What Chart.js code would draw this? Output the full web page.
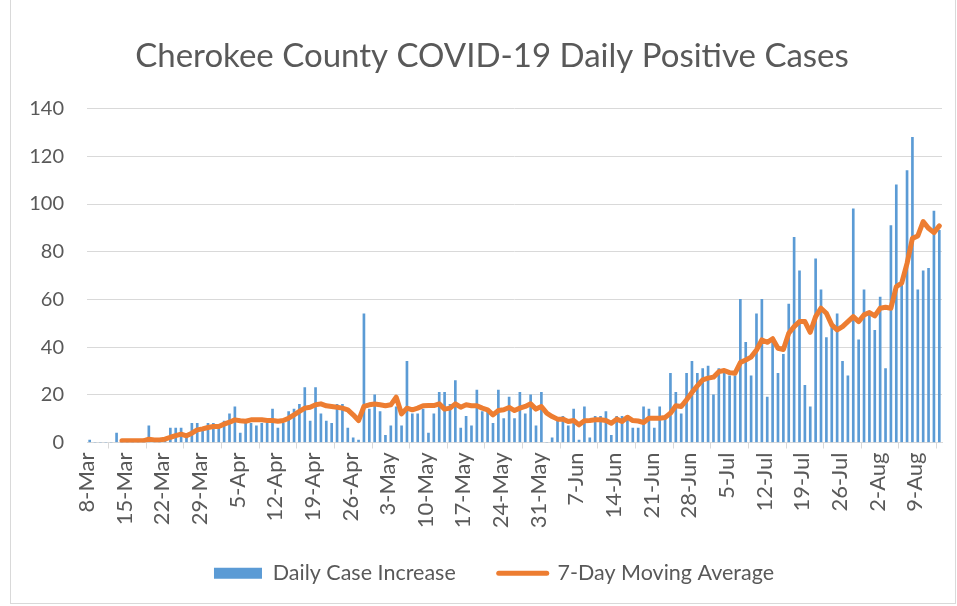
<!DOCTYPE html>
<html>
<head>
<meta charset="utf-8">
<script src="https://cdn.jsdelivr.net/npm/chart.js@4/dist/chart.umd.min.js"></script>
<style>
html, body { margin: 0; padding: 0; background: #ffffff; }
#wrap { position: relative; width: 957px; height: 606px; overflow: hidden; }
#c { position: absolute; left: 0; top: 0; }
#frame { position: absolute; left: 10px; top: -2px; width: 946px; height: 606px; border: 1px solid #d9d9d9; box-sizing: border-box; pointer-events: none; }
</style>
</head>
<body>
<div id="wrap">
  <canvas id="c" width="957" height="606"></canvas>
  <div id="frame"></div>
</div>
<script>
// ---- categories (one per day) ----
const dates = [
  "8-Mar","9-Mar","10-Mar","11-Mar","12-Mar","13-Mar","14-Mar","15-Mar","16-Mar","17-Mar","18-Mar","19-Mar","20-Mar","21-Mar","22-Mar","23-Mar","24-Mar","25-Mar","26-Mar","27-Mar","28-Mar","29-Mar","30-Mar","31-Mar",
  "1-Apr","2-Apr","3-Apr","4-Apr","5-Apr","6-Apr","7-Apr","8-Apr","9-Apr","10-Apr","11-Apr","12-Apr","13-Apr","14-Apr","15-Apr","16-Apr","17-Apr","18-Apr","19-Apr","20-Apr","21-Apr","22-Apr","23-Apr","24-Apr","25-Apr","26-Apr","27-Apr","28-Apr","29-Apr","30-Apr",
  "1-May","2-May","3-May","4-May","5-May","6-May","7-May","8-May","9-May","10-May","11-May","12-May","13-May","14-May","15-May","16-May","17-May","18-May","19-May","20-May","21-May","22-May","23-May","24-May","25-May","26-May","27-May","28-May","29-May","30-May","31-May",
  "1-Jun","2-Jun","3-Jun","4-Jun","5-Jun","6-Jun","7-Jun","8-Jun","9-Jun","10-Jun","11-Jun","12-Jun","13-Jun","14-Jun","15-Jun","16-Jun","17-Jun","18-Jun","19-Jun","20-Jun","21-Jun","22-Jun","23-Jun","24-Jun","25-Jun","26-Jun","27-Jun","28-Jun","29-Jun","30-Jun",
  "1-Jul","2-Jul","3-Jul","4-Jul","5-Jul","6-Jul","7-Jul","8-Jul","9-Jul","10-Jul","11-Jul","12-Jul","13-Jul","14-Jul","15-Jul","16-Jul","17-Jul","18-Jul","19-Jul","20-Jul","21-Jul","22-Jul","23-Jul","24-Jul","25-Jul","26-Jul","27-Jul","28-Jul","29-Jul","30-Jul","31-Jul",
  "1-Aug","2-Aug","3-Aug","4-Aug","5-Aug","6-Aug","7-Aug","8-Aug","9-Aug","10-Aug","11-Aug","12-Aug","13-Aug"
];

// ---- series: daily case increase ----
const dailyCases = [
  1,0,0,0,0,4,0,0,0,0,
  0,7,1,0,2,6,6,6,3,8,
  8,6,8,8,7,9,12,15,4,8,
  8,7,8,8,14,6,8,13,14,16,
  23,9,23,12,9,8,16,16,6,2,
  1,54,14,20,13,3,7,15,7,34,
  12,12,14,4,12,21,21,16,26,6,
  11,7,22,13,13,8,22,10,19,10,
  21,12,20,7,21,0,2,9,11,7,
  14,1,15,2,11,11,13,3,11,11,
  10,6,6,15,14,6,15,11,29,21,
  12,29,34,29,31,32,20,31,30,28,
  28,60,42,28,54,60,19,44,29,37,
  58,86,72,24,15,77,64,44,49,54,
  34,28,98,43,64,55,47,61,31,91,
  108,67,114,128,64,72,73,97,89
];

// ---- series: 7-day moving average ----
const movingAverage = [
  null,null,null,null,null,null,0.7,0.7,0.7,0.7,
  0.7,1.4,1.1,1.1,1.4,2.2,2.9,3.5,2.8,3.9,
  5.3,5.7,6.3,6.7,6.7,7.7,8.5,9.5,9.1,8.9,
  9.5,9.5,9.5,9.2,9.2,8.9,9.2,10.2,11.6,13,
  14.4,14.8,15.8,16.2,15.4,15.1,14.8,14.4,13.7,11.6,
  9.2,15.1,15.8,16.1,15.8,15.4,15.8,19,12,14.4,
  13.7,14.4,15.4,15.5,15.5,16.2,14,14.4,16.2,14.8,
  15.8,15.4,15.4,14.4,13.7,11.6,13.4,13.7,14.7,13.4,
  14.4,15.1,16.2,14,15.1,12.3,10.9,9.8,9.8,8.8,
  9.2,7.4,9.1,9.2,9.5,9.5,9.2,8.1,9.8,8.8,
  10.6,9.2,9,8.4,10.2,10.2,10.2,10.5,12.3,15.4,
  15.1,17.9,21,23.7,26.3,27,27.4,29.7,30.2,29.3,
  29,33.5,34.6,35.8,38.8,43,42,43.5,39.5,39,
  45.8,48.6,50.7,50.7,46.2,52.8,56.3,54.2,49.3,47.2,
  48.6,50.7,52.8,50.7,53.5,54.5,53.1,56.3,56.7,56.3,
  65.4,66.8,75.1,85.6,86.6,92.6,89.8,88,90.8
];

// ---- axis / text settings ----
const yTicks = [0, 20, 40, 60, 80, 100, 120, 140];
const xLabelEvery = 7;
const chartTitle = "Cherokee County COVID-19 Daily Positive Cases";
const seriesNames = ["Daily Case Increase", "7-Day Moving Average"];

const FONT = "Lato, 'Open Sans', sans-serif";
const TEXT = "#595959";
const GRID = "#d9d9d9";
const BLUE = "#5b9bd5";
const ORANGE = "#ed7d31";

// adjust title/legend centring and let the rotated x labels extend below the axis box
const boxShift = {
  id: 'boxShift',
  afterLayout(chart) {
    const lg = chart.legend;
    if (lg) { lg.left += 18; lg.right += 18; }
    const tt = chart.titleBlock;
    if (tt) { tt.left += 16; tt.right += 16; }
    const xs = chart.scales.x;
    if (xs) { xs.bottom += 40; xs.height += 40; }
  }
};

new Chart(document.getElementById('c'), {
  data: {
    labels: dates,
    datasets: [
      {
        type: 'line',
        label: seriesNames[1],
        data: movingAverage,
        borderColor: ORANGE,
        backgroundColor: ORANGE,
        borderWidth: 5,
        pointRadius: 0,
        tension: 0,
        borderCapStyle: 'round',
        borderJoinStyle: 'round'
      },
      {
        type: 'bar',
        label: seriesNames[0],
        data: dailyCases,
        backgroundColor: BLUE,
        borderWidth: 0,
        barThickness: 2
      }
    ]
  },
  options: {
    responsive: false,
    animation: false,
    devicePixelRatio: 1,
    layout: { padding: { left: 10, right: 15, top: 0, bottom: 12 } },
    plugins: {
      title: {
        display: true,
        text: chartTitle,
        color: TEXT,
        font: { family: FONT, size: 33, weight: 'normal' },
        padding: { top: 37, bottom: 32 }
      },
      legend: {
        position: 'bottom',
        labels: {
          usePointStyle: true,
          pointStyleWidth: 48,
          boxHeight: 11,
          padding: 43,
          color: TEXT,
          font: { family: FONT, size: 21.5 },
          generateLabels() {
            return [
              { text: seriesNames[0], fillStyle: BLUE, strokeStyle: BLUE, lineWidth: 0, pointStyle: 'rect', hidden: false, datasetIndex: 1, fontColor: TEXT },
              { text: seriesNames[1], fillStyle: ORANGE, strokeStyle: ORANGE, lineWidth: 5, lineCap: 'round', pointStyle: 'line', hidden: false, datasetIndex: 0, fontColor: TEXT }
            ];
          }
        }
      },
      tooltip: { enabled: false }
    },
    scales: {
      x: {
        type: 'category',
        offset: true,
        grid: { offset: true, drawOnChartArea: false, drawTicks: true, tickLength: 6, color: GRID, lineWidth: 1 },
        border: { display: true, color: GRID, width: 1 },
        ticks: {
          autoSkip: false,
          maxRotation: 90,
          minRotation: 90,
          padding: 4,
          labelOffset: -2.7,
          color: TEXT,
          font: { family: FONT, size: 22 },
          callback: function (v, i) { return i % xLabelEvery === 0 ? this.getLabelForValue(v) : null; }
        },
        afterFit(s) { s.height = 77; }
      },
      y: {
        min: yTicks[0],
        max: yTicks[yTicks.length - 1],
        afterBuildTicks(s) { s.ticks = yTicks.map(v => ({ value: v })); },
        grid: { color: GRID, lineWidth: 1, drawTicks: false },
        border: { display: false },
        ticks: { padding: 23, color: TEXT, font: { family: FONT, size: 20 } },
        afterFit(s) { s.width = 77; }
      }
    }
  },
  plugins: [boxShift]
});
</script>
</body>
</html>
